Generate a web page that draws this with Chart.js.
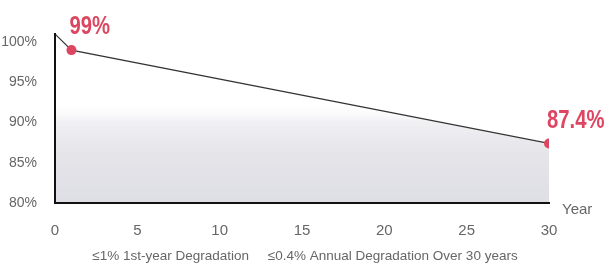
<!DOCTYPE html>
<html>
<head>
<meta charset="utf-8">
<script src="https://cdn.jsdelivr.net/npm/chart.js@4"></script>
<style>
  html, body { margin: 0; padding: 0; background: #fff; }
  #wrap { width: 608px; height: 269px; }
</style>
</head>
<body>
<div id="wrap"><canvas id="chart" width="608" height="269"></canvas></div>
<script>
// values
const years = [0, 1, 30];
const retention = [101, 99, 87.4];
const pointLabels = ['', '99%', '87.4%'];
const yTicks = [80, 85, 90, 95, 100];
const xTicks = [0, 5, 10, 15, 20, 25, 30];
const caption = '\u22641% 1st-year Degradation     \u22640.4% Annual Degradation Over 30 years';

const RED = '#dd4660';
const GREY_TEXT = '#666';
const SANS = "'Liberation Sans', Arial, sans-serif";

// value labels above the red points, "Year" note and the caption line
const labelPlugin = {
  id: 'labels',
  afterDraw(chart) {
    const ctx = chart.ctx;
    const meta = chart.getDatasetMeta(0);
    ctx.save();
    ctx.fillStyle = RED;
    ctx.font = 'bold 26px ' + SANS;
    ctx.textAlign = 'left';
    ctx.textBaseline = 'middle';
    meta.data.forEach((pt, i) => {
      if (!pointLabels[i]) return;
      // the original uses a condensed face, squeeze it horizontally
      ctx.save();
      ctx.translate(pt.x - 2, pt.y - 23);
      ctx.scale(0.78, 1);
      ctx.fillText(pointLabels[i], 0, 0);
      ctx.restore();
    });
    const area = chart.chartArea;
    ctx.fillStyle = GREY_TEXT;
    ctx.font = '15px ' + SANS;
    ctx.fillText('Year', area.right + 13, area.bottom + 7);

    ctx.font = '13.5px ' + SANS;
    ctx.textAlign = 'center';
    ctx.fillText(caption, chart.width / 2 + 1, chart.height - 13);
    ctx.restore();
  }
};

function areaFill(context) {
  const chart = context.chart;
  const area = chart.chartArea;
  if (!area) return 'rgba(224,224,229,1)';
  const g = chart.ctx.createLinearGradient(0, area.top + 68, 0, area.bottom);
  g.addColorStop(0, 'rgba(255,255,255,0)');
  g.addColorStop(0.2, 'rgba(240,240,243,1)');
  g.addColorStop(0.5, 'rgba(229,229,234,1)');
  g.addColorStop(1, 'rgba(222,222,229,1)');
  return g;
}

new Chart(document.getElementById('chart'), {
  type: 'line',
  data: {
    labels: years,
    datasets: [{
      data: years.map((x, i) => ({ x, y: retention[i] })),
      borderColor: '#333',
      borderWidth: 1.2,
      tension: 0,
      fill: 'origin',
      backgroundColor: areaFill,
      pointRadius: pointLabels.map(l => (l ? 5 : 0)),
      pointBackgroundColor: RED,
      pointBorderWidth: 0
    }]
  },
  options: {
    responsive: false,
    animation: false,
    layout: { padding: { top: 34, right: 59, left: 0, bottom: 28 } },
    plugins: {
      legend: { display: false },
      tooltip: { enabled: false }
    },
    scales: {
      x: {
        type: 'linear',
        min: 0,
        max: 30,
        grid: { display: false },
        border: { display: true, color: '#111', width: 2, z: 1 },
        afterBuildTicks: s => { s.ticks = xTicks.map(v => ({ value: v })); },
        afterFit: s => { s.height = 38; },
        ticks: {
          color: GREY_TEXT,
          padding: 11,
          maxRotation: 0,
          font: { family: SANS, size: 15 }
        }
      },
      y: {
        min: 80,
        max: 101,
        grid: { display: false },
        border: { display: true, color: '#111', width: 2, z: 1 },
        afterBuildTicks: s => { s.ticks = yTicks.map(v => ({ value: v })); },
        afterFit: s => { s.width = 55; },
        ticks: {
          color: GREY_TEXT,
          padding: 10,
          font: { family: SANS, size: 14 },
          callback: v => v + '%'
        }
      }
    }
  },
  plugins: [labelPlugin]
});
</script>
</body>
</html>
